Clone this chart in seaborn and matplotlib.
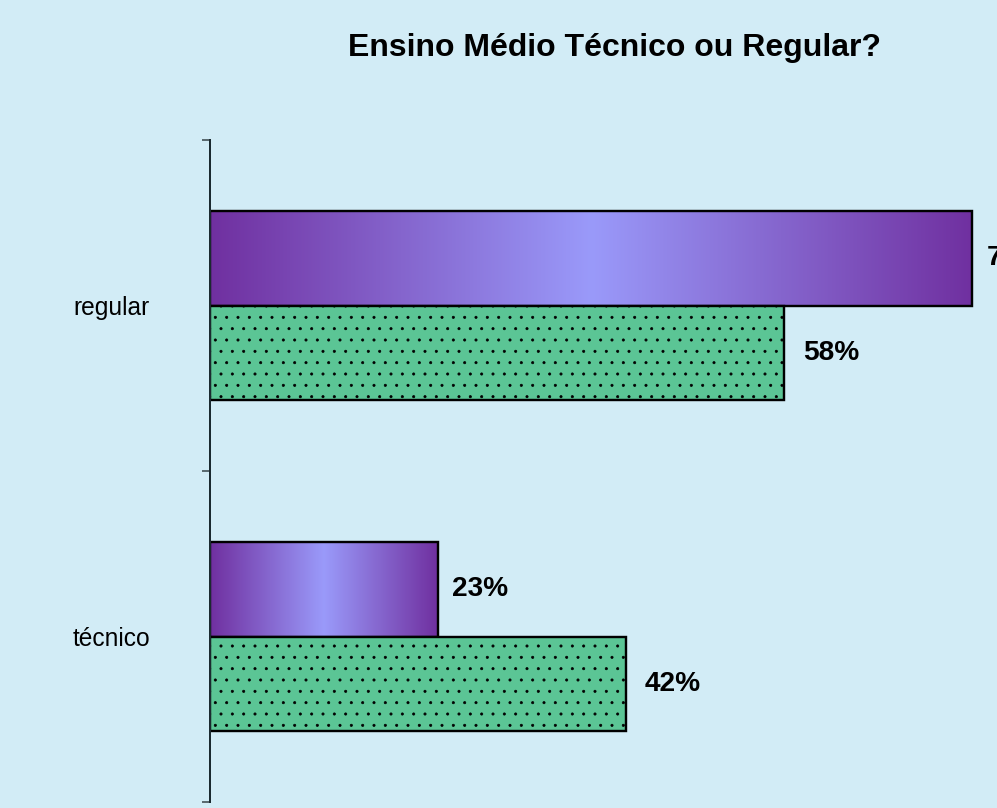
import numpy as np
import pandas as pd
import matplotlib
matplotlib.use("Agg")
import matplotlib.pyplot as plt
from matplotlib.colors import LinearSegmentedColormap
import seaborn as sns

# ---- data ----
categories = ["regular", "técnico"]
series_names = ["Série A", "Série B"]
series_a = [77, 23]   # purple gradient bars
series_b = [58, 42]   # green dotted bars
title = "Ensino Médio Técnico ou Regular?"

DPI = 68
W, H = 997, 808
def P(px):
    return px * 72.0 / DPI

sns.set_theme(style="white")
plt.rcParams["font.family"] = ["Liberation Sans", "DejaVu Sans"]
plt.rcParams["hatch.color"] = "black"
plt.rcParams["hatch.linewidth"] = P(0.7)

df = pd.DataFrame({
    "categoria": categories * 2,
    "serie": [series_names[0]] * len(categories) + [series_names[1]] * len(categories),
    "valor": series_a + series_b,
})

bg = "#D2ECF6"
fig = plt.figure(figsize=(W / DPI, H / DPI), dpi=DPI, facecolor=bg)
xmax = 80
px_per_unit = 9.9
ax = fig.add_axes([210 / W, 1 - 802 / H, xmax * px_per_unit / W, 662 / H])
ax.set_facecolor("none")

purple_dark = "#7030A0"
purple_light = "#9A9AFA"
green = "#5BC595"

sns.barplot(data=df, y="categoria", x="valor", hue="serie", order=categories,
            hue_order=series_names, palette=[purple_dark, green], orient="h",
            width=0.574, dodge=True, edgecolor="black", linewidth=P(2.4),
            saturation=1, legend=False, ax=ax)

ax.set_xlim(0, xmax)
ax.set_ylim(1.5, -0.5)

cmap = LinearSegmentedColormap.from_list("pg", [purple_dark, purple_light, purple_dark])
grad = np.linspace(0, 1, 256).reshape(1, -1)

cont_a, cont_b = ax.containers[0], ax.containers[1]
for patch in cont_a.patches:
    x0, y0 = patch.get_x(), patch.get_y()
    w, h = patch.get_width(), patch.get_height()
    im = ax.imshow(grad, cmap=cmap, aspect="auto", extent=[x0, x0 + w, y0 + h, y0],
                   zorder=patch.get_zorder() - 0.1, interpolation="bilinear")
    im.set_clip_path(patch)
    patch.set_facecolor("none")
for patch in cont_b.patches:
    patch.set_hatch(".")

ax.set_xlim(0, xmax)
ax.set_ylim(1.5, -0.5)

lab_kw = dict(fontsize=P(28), fontweight="bold", color="black")
ax.bar_label(cont_a, labels=[f"{v}%" for v in series_a], padding=P(14), **lab_kw)
ax.bar_label(cont_b, labels=[f"{v}%" for v in series_b], padding=P(19), **lab_kw)

# axes styling
for s in ["top", "right", "bottom"]:
    ax.spines[s].set_visible(False)
ax.spines["left"].set_color("#1b2a30")
ax.spines["left"].set_linewidth(P(2.0))
ax.set_xticks([])
ax.set_xlabel("")
ax.set_ylabel("")
ax.set_yticks([0, 1])
ax.set_yticklabels(categories, fontsize=P(24.5), color="black")
ax.tick_params(axis="y", which="major", left=True, length=0, pad=P(60))
ax.set_yticks([-0.5, 0.5, 1.5], minor=True)
ax.tick_params(axis="y", which="minor", left=True, length=P(8), width=P(2.0),
               color="#5a6a70", direction="out")

fig.text(614 / W, 1 - 56 / H, title, ha="center", va="baseline",
         fontsize=P(32), fontweight="bold", color="black")

fig.savefig("out.png", dpi=DPI, facecolor=bg)
